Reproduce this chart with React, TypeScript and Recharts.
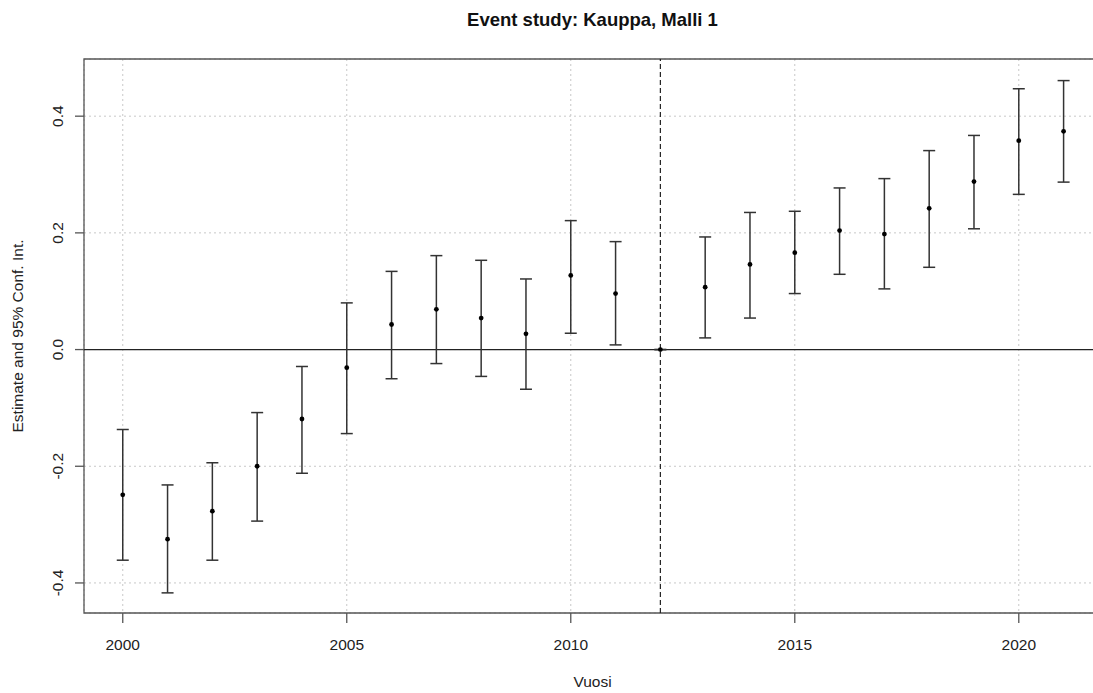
import { ScatterChart, Scatter, XAxis, YAxis, CartesianGrid, ReferenceLine, ReferenceArea, ErrorBar, Label } from 'recharts';

const years = [2000, 2001, 2002, 2003, 2004, 2005, 2006, 2007, 2008, 2009, 2010, 2011, 2012, 2013, 2014, 2015, 2016, 2017, 2018, 2019, 2020, 2021];
const estimate = [-0.249, -0.325, -0.277, -0.2, -0.119, -0.031, 0.043, 0.069, 0.054, 0.027, 0.127, 0.096, 0, 0.107, 0.146, 0.166, 0.204, 0.198, 0.242, 0.288, 0.358, 0.374];
const lower = [-0.361, -0.417, -0.361, -0.294, -0.212, -0.144, -0.05, -0.024, -0.046, -0.068, 0.028, 0.008, 0, 0.02, 0.054, 0.096, 0.129, 0.104, 0.141, 0.207, 0.266, 0.287];
const upper = [-0.137, -0.232, -0.194, -0.108, -0.029, 0.08, 0.134, 0.161, 0.153, 0.121, 0.221, 0.185, 0, 0.193, 0.235, 0.237, 0.277, 0.293, 0.341, 0.367, 0.447, 0.461];

const xTicks = [2000, 2005, 2010, 2015, 2020];
const yTicks = [-0.4, -0.2, 0, 0.2, 0.4];
const eventYear = 2012;

// R-style padding around the data
const X_DOMAIN: [number, number] = [1999.135, 2021.835];
const Y_DOMAIN: [number, number] = [-0.4515, 0.498];

const FONT = '"Liberation Sans", Arial, sans-serif';
const INK = '#222';
const FRAME = '#555';

const data = years.map((year, i) => ({
  year,
  est: estimate[i],
  err: [estimate[i] - lower[i], upper[i] - estimate[i]],
}));

const YTick = (props: any) => {
  const { x, y, payload } = props;
  return (
    <text
      x={x}
      y={y}
      transform={`rotate(-90, ${x}, ${y})`}
      textAnchor="middle"
      fontFamily={FONT}
      fontSize={15.5}
      fill={INK}
    >
      {Number(payload.value).toFixed(1)}
    </text>
  );
};

const Dot = (props: any) => <circle cx={props.cx} cy={props.cy} r={2.4} fill="#000" />;

export default function App() {
  return (
    <div style={{ position: 'fixed', left: 0, top: 0, width: 1093, height: 693, overflow: 'hidden', background: '#fff' }}>
      <svg width={1093} height={40} style={{ position: 'absolute', left: 0, top: 0 }}>
        <text x={592.5} y={26} textAnchor="middle" fontFamily={FONT} fontWeight="bold" fontSize={18.5} fill="#111">
          Event study: Kauppa, Malli 1
        </text>
      </svg>
      <ScatterChart width={1102} height={693} margin={{ top: 59, right: 1, bottom: 0, left: 0 }}>
        <CartesianGrid stroke="#c8c8c8" strokeDasharray="2 3" />
        <XAxis
          dataKey="year"
          type="number"
          domain={X_DOMAIN}
          ticks={xTicks}
          allowDataOverflow
          height={80}
          axisLine={false}
          tickSize={10}
          tickMargin={16}
          tickLine={{ stroke: FRAME, strokeWidth: 1.3 }}
          tick={{ fontFamily: FONT, fontSize: 15.5, fill: INK }}
        >
          <Label value="Vuosi" position="insideBottom" offset={6} style={{ fontFamily: FONT, fontSize: 15.5, fill: INK }} />
        </XAxis>
        <YAxis
          dataKey="est"
          type="number"
          domain={Y_DOMAIN}
          ticks={yTicks}
          allowDataOverflow
          width={84}
          axisLine={false}
          tickSize={9}
          tickMargin={12}
          tickLine={{ stroke: FRAME, strokeWidth: 1.3 }}
          tick={<YTick />}
        >
          <Label
            value="Estimate and 95% Conf. Int."
            angle={-90}
            position="insideLeft"
            offset={17}
            style={{ textAnchor: 'middle', fontFamily: FONT, fontSize: 15.5, fill: INK }}
          />
        </YAxis>
        <ReferenceArea
          x1={X_DOMAIN[0]}
          x2={X_DOMAIN[1]}
          y1={Y_DOMAIN[0]}
          y2={Y_DOMAIN[1]}
          fill="none"
          stroke={FRAME}
          strokeWidth={1.3}
          ifOverflow="visible"
        />
        <ReferenceLine y={0} stroke="#222" strokeWidth={1.3} />
        <ReferenceLine x={eventYear} stroke="#222" strokeWidth={1.2} strokeDasharray="5 3" />
        <Scatter data={data} shape={<Dot />} isAnimationActive={false}>
          <ErrorBar dataKey="err" direction="y" width={6} stroke="#333" strokeWidth={1.5} />
        </Scatter>
      </ScatterChart>
    </div>
  );
}
